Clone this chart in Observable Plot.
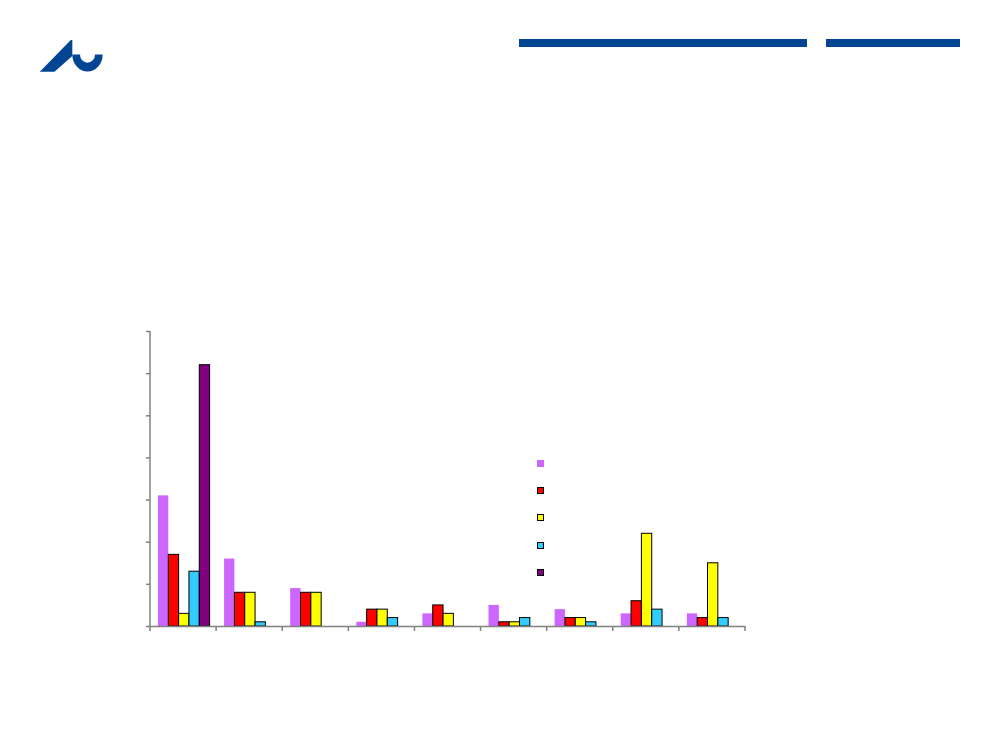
<!DOCTYPE html>
<html><head><meta charset="utf-8">
<script src="https://cdn.jsdelivr.net/npm/d3@7"></script>
<script src="https://cdn.jsdelivr.net/npm/@observablehq/plot@0.6"></script>
<style>
body{margin:0;background:#fff;font-family:"Liberation Sans",Arial,sans-serif}
#wrap{position:relative;width:1000px;height:750px;overflow:hidden;background:#fff}
#chart{position:absolute;left:0;top:0}
.hbar{position:absolute;background:#034592;height:8px;top:39px}
#logo{position:absolute;left:0;top:0}
#legend{position:absolute;left:537px;top:460px}
.key{width:7px;height:7px;box-sizing:border-box;border:1px solid #000;margin-bottom:20.2px}
</style></head><body>
<div id="wrap">
  <svg id="logo" width="120" height="90" viewBox="0 0 120 90">
    <path d="M39.8 71.7 L70.8 40 L72.3 40 L72.3 56 L54.5 71.7 Z" fill="#034592"/>
    <path d="M72.3 54.5 L80 54.5 A7.5 8.3 0 0 0 95 54.5 L102.7 54.5 A15.2 17 0 0 1 72.3 54.5 Z" fill="#034592"/>
  </svg>
  <div class="hbar" style="left:519px;width:288px"></div>
  <div class="hbar" style="left:826px;width:134px"></div>
  <div id="chart"></div>
  <div id="legend"></div>
</div>
<script>
// Categories (no labels visible in the reference)
const categories = ["Kategori 1","Kategori 2","Kategori 3","Kategori 4","Kategori 5","Kategori 6","Kategori 7","Kategori 8","Kategori 9"];
const seriesNames = ["Serie 1","Serie 2","Serie 3","Serie 4","Serie 5"];
const seriesColors = ["#cc66ff","#ff0000","#ffff00","#33ccff","#800080"];
const serie1 = [31,16,9,1,3,5,4,3,3];
const serie2 = [17,8,8,4,5,1,2,6,2];
const serie3 = [3,8,8,4,3,1,2,22,15];
const serie4 = [13,1,null,2,null,2,1,4,2];
const serie5 = [62,null,null,null,null,null,null,null,null];
const yTicks = [0,10,20,30,40,50,60,70];

const allSeries = [serie1,serie2,serie3,serie4,serie5];
const rows = [];
allSeries.forEach((vals, si) => vals.forEach((v, ci) => {
  if (v != null) rows.push({cat: categories[ci], series: seriesNames[si], value: v});
}));

const axisColor = "#808080";
const chart = Plot.plot({
  width: 1000, height: 750,
  marginLeft: 150, marginRight: 255, marginTop: 331, marginBottom: 124,
  style: {background: "transparent", overflow: "visible"},
  fx: {domain: categories, paddingInner: 0, paddingOuter: 0, round: false, axis: null, label: null},
  x: {domain: seriesNames, paddingInner: 0, paddingOuter: 0.7, align: 0.55, round: false, axis: null},
  y: {domain: [0, 70], axis: null, label: null},
  color: {domain: seriesNames, range: seriesColors},
  marks: [
    Plot.barY(rows.filter(d => d.series === seriesNames[0]), {fx: "cat", x: "series", y: "value", fill: "series"}),
    Plot.barY(rows.filter(d => d.series !== seriesNames[0]), {fx: "cat", x: "series", y: "value", fill: "series", stroke: "#000", strokeWidth: 1}),
    Plot.ruleY([0], {stroke: axisColor, strokeWidth: 1.5}),
    Plot.axisY({ticks: yTicks, tickSize: 4, tickFormat: () => "", label: null, stroke: axisColor, strokeWidth: 1.5, strokeOpacity: 1})
  ]
});
document.getElementById("chart").appendChild(chart);

// Excel-style axis lines: y axis line and x ticks at category boundaries (from Plot's scales)
const fxS = chart.scale("fx"), yS = chart.scale("y");
const svg = d3.select(chart);
const y0 = yS.apply(0), yTop = yS.apply(70);
const xLeft = fxS.apply(categories[0]);
svg.append("line").attr("x1", xLeft).attr("x2", xLeft).attr("y1", yTop).attr("y2", y0)
  .attr("stroke", axisColor).attr("stroke-width", 1.5);
const edges = categories.map(c => fxS.apply(c));
edges.push(fxS.apply(categories[categories.length - 1]) + fxS.bandwidth);
edges.forEach(x => svg.append("line").attr("x1", x).attr("x2", x).attr("y1", y0).attr("y2", y0 + 5)
  .attr("stroke", axisColor).attr("stroke-width", 1.5));

// Legend (swatches only, as in the reference)
const legend = document.getElementById("legend");
seriesNames.forEach((s, i) => {
  const k = document.createElement("div");
  k.className = "key";
  k.style.background = seriesColors[i];
  if (i === 0) k.style.border = "none";
  legend.appendChild(k);
});
</script>
</body></html>
